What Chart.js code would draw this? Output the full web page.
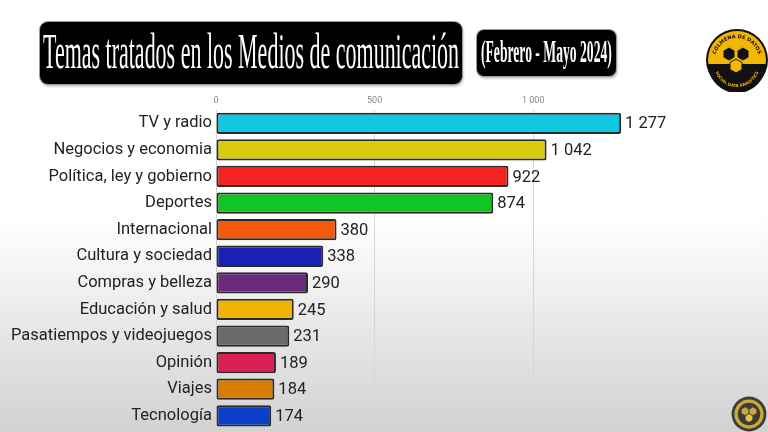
<!DOCTYPE html>
<html>
<head>
<meta charset="utf-8">
<script src="https://cdn.jsdelivr.net/npm/chart.js@4.4.1/dist/chart.umd.min.js"></script>
<style>
  html, body { margin:0; padding:0; }
  body {
    width:768px; height:432px; overflow:hidden; position:relative;
    background: linear-gradient(to bottom, #ffffff 0%, #ffffff 50%, #e4e4e4 80%, #d2d2d2 100%);
    font-family: Roboto, "Noto Sans", sans-serif;
  }
  #wrap { position:absolute; left:0; top:0; width:768px; height:443px; }
  .box {
    position:absolute; background:#000; border-radius:8px;
    box-shadow: 0 0 0 1px #9a9a9a, 1px 2px 3px rgba(0,0,0,0.35);
    overflow:hidden;
  }
  .box span {
    position:absolute; left:0; top:50%; white-space:nowrap; color:#fff;
    font-family: "Liberation Serif", "DejaVu Serif", serif;
    transform-origin: 0 50%;
  }
  #logo { position:absolute; left:705px; top:28px; }
  #logo2 { position:absolute; left:731px; top:396px; opacity:0.85; }
</style>
</head>
<body>
<div id="wrap"><canvas id="c" width="768" height="443"></canvas></div>

<div class="box" id="tbox" style="left:40px; top:22px; width:422px; height:62px;">
  <span id="t1" style="font-size:50px;">Temas tratados en los Medios de comunicación</span>
</div>
<div class="box" id="sbox" style="left:477px; top:30px; width:139px; height:46px; border-radius:7px;">
  <span id="t2" style="font-size:31px; font-weight:bold;">(Febrero - Mayo 2024)</span>
</div>

<svg id="logo" width="64" height="64" viewBox="0 0 64 64">
  <defs>
    <path id="arcTop" d="M 10 32 A 22 22 0 0 1 54 32"/>
    <path id="arcBot" d="M 9 36 A 23 23 0 0 0 55 36"/>
  </defs>
  <circle cx="32" cy="32" r="31" fill="#111"/>
  <circle cx="32" cy="32" r="29" fill="#f2b705"/>
  <path d="M 3 36 A 29 29 0 0 0 61 36 Z" fill="#111"/>
  <text font-size="5" font-weight="bold" fill="#111" font-family="DejaVu Sans"><textPath href="#arcTop" startOffset="50%" text-anchor="middle">COLMENA DE DATOS</textPath></text>
  <text font-size="4" font-weight="bold" fill="#f2b705" font-family="DejaVu Sans"><textPath href="#arcBot" startOffset="50%" text-anchor="middle">SOCIAL DATA ANALYTICS</textPath></text>
  <polygon points="24,19 30,22.5 30,29.5 24,33 18,29.5 18,22.5" fill="#111" stroke="#f2b705" stroke-width="1"/>
  <polygon points="38,19 44,22.5 44,29.5 38,33 32,29.5 32,22.5" fill="#111" stroke="#f2b705" stroke-width="1"/>
  <polygon points="31,31 37,34.5 37,41.5 31,45 25,41.5 25,34.5" fill="#f2b705" stroke="#111" stroke-width="1"/>
</svg>

<svg id="logo2" width="36" height="36" viewBox="0 0 64 64">
  <circle cx="32" cy="32" r="31" fill="#222"/>
  <circle cx="32" cy="32" r="26" fill="#c9a21a"/>
  <circle cx="32" cy="32" r="20" fill="#222"/>
  <polygon points="25,20 31,23.5 31,30.5 25,34 19,30.5 19,23.5" fill="#c9a21a"/>
  <polygon points="39,20 45,23.5 45,30.5 39,34 33,30.5 33,23.5" fill="#c9a21a"/>
  <polygon points="32,32 38,35.5 38,42.5 32,46 26,42.5 26,35.5" fill="#e8c02a"/>
</svg>

<script>
// ---- data ----
const categories = [
  "TV y radio", "Negocios y economia", "Política, ley y gobierno", "Deportes",
  "Internacional", "Cultura y sociedad", "Compras y belleza", "Educación y salud",
  "Pasatiempos y videojuegos", "Opinión", "Viajes", "Tecnología"
];
const values = [1277, 1042, 922, 874, 380, 338, 290, 245, 231, 189, 184, 174];
const tickValues = [0, 500, 1000];
const barColors = [
  "#10c8e4", "#d8cc0c", "#f42222", "#12c424", "#f45a0c", "#1a20b4",
  "#6c2a7c", "#f2b202", "#6a6a6a", "#da2050", "#d87c02", "#0c3ec8"
];

function fmt(v) { return String(v).replace(/\B(?=(\d{3})+(?!\d))/g, " "); }

// fit titles into their boxes
function fitText(id, boxId, padX) {
  const s = document.getElementById(id), b = document.getElementById(boxId);
  const target = b.clientWidth - 2 * padX;
  const w = s.offsetWidth;
  const k = target / w;
  s.style.left = padX + "px";
  s.style.transform = "translateY(-54%) scaleX(" + k + ")";
}
fitText("t1", "tbox", 3);
fitText("t2", "sbox", 4);

const valueLabels = {
  id: "valueLabels",
  afterDatasetsDraw(chart) {
    const ctx = chart.ctx;
    const meta = chart.getDatasetMeta(0);
    ctx.save();
    ctx.font = "16.5px Roboto";
    ctx.fillStyle = "#222";
    ctx.textBaseline = "middle";
    ctx.textAlign = "left";
    meta.data.forEach((bar, i) => {
      ctx.fillText(fmt(values[i]), bar.x + 4, bar.y + 1);
    });
    ctx.restore();
  }
};

new Chart(document.getElementById("c"), {
  type: "bar",
  data: {
    labels: categories,
    datasets: [{
      data: values,
      backgroundColor: barColors,
      borderColor: "#2a2a2a",
      borderWidth: 2,
      borderSkipped: false,
      borderRadius: 2,
      barPercentage: 0.8,
      categoryPercentage: 1.0
    }]
  },
  options: {
    indexAxis: "y",
    responsive: false,
    animation: false,
    layout: { padding: { top: 90, right: 92, bottom: 3, left: 0 } },
    plugins: { legend: { display: false }, tooltip: { enabled: false } },
    scales: {
      x: {
        position: "top",
        min: 0,
        max: 1450,
        afterFit(axis) { axis.height = 20; },
        afterBuildTicks(axis) { axis.ticks = tickValues.map(v => ({ value: v })); },
        ticks: {
          padding: 4,
          font: { size: 9, family: "Roboto" },
          color: "#888",
          callback: (v) => fmt(v)
        },
        grid: { color: "#d6d6d6", lineWidth: 1, drawTicks: false },
        border: { display: false }
      },
      y: {
        afterFit(axis) { axis.width = 216; },
        ticks: {
          padding: 4,
          font: { size: 16.5, family: "Roboto" },
          color: "#222"
        },
        grid: { display: false, drawTicks: false },
        border: { display: false }
      }
    }
  },
  plugins: [valueLabels]
});
</script>
</body>
</html>
